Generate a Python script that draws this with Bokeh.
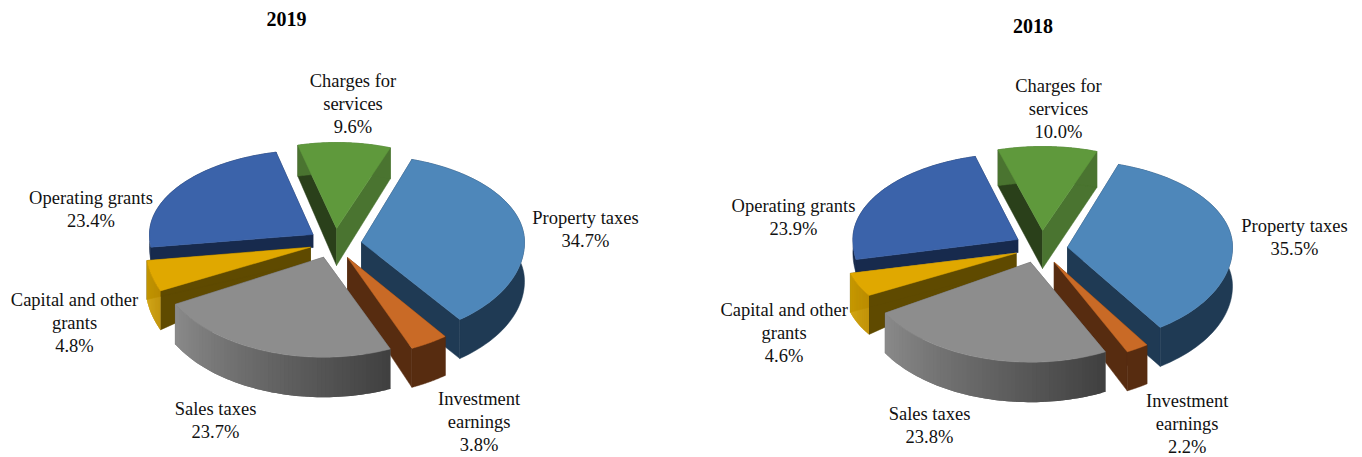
import math
from bokeh.plotting import figure
from bokeh.models import Range1d
from bokeh.core.properties import value
from bokeh.embed import file_html
from bokeh.resources import INLINE

# ---- data ----
categories = ["Property taxes", "Investment earnings", "Sales taxes",
              "Capital and other grants", "Operating grants", "Charges for services"]
shares_2019 = [34.7, 3.8, 23.7, 4.8, 23.4, 9.6]
shares_2018 = [35.5, 2.2, 23.8, 4.6, 23.9, 10.0]
title_2019 = "2019"
title_2018 = "2018"

# ---- style per category: top, wall at start edge, wall at end edge, outer wall from, outer wall to ----
STYLE = {
    "Property taxes":           ("#4E87BA", "#1F3A54", "#1F3A54", "#1F3A54", "#1F3A54"),
    "Investment earnings":      ("#C96A26", "#572C10", "#572C10", "#572C10", "#572C10"),
    "Sales taxes":              ("#8D8D8D", "#5A5A5A", "#5A5A5A", "#8A8A8A", "#404040"),
    "Capital and other grants": ("#E0A800", "#5F4A00", "#5F4A00", "#CFA000", "#BF8F00"),
    "Operating grants":         ("#3B63AA", "#172A4D", "#172A4D", "#172A4D", "#172A4D"),
    "Charges for services":     ("#5F993C", "#2A401A", "#4A7430", "#4A7430", "#4A7430"),
}

# ---- layout: per slice apex x, apex y, rx, ry back, ry front, rotation, apex depth, rim depth ----
GEOM_2019 = {
    "Property taxes":           (361, 241.7, 163, 87, 97, 0, 38, 39),
    "Investment earnings":      (347, 257, 162, 99, 99, 0, 33, 39),
    "Sales taxes":              (323, 256.7, 168, 100, 100, 0, 38, 40),
    "Capital and other grants": (310, 246.7, 165, 105, 105, 3.5, 15, 39),
    "Operating grants":         (312.5, 234, 163.5, 84.5, 100, 3.5, 13, 13),
    "Charges for services":     (336, 228, 156, 86, 86, 2.2, 37, 31),
}
GEOM_2018 = {
    "Property taxes":           (1067, 246.7, 165, 87, 97, 0, 38, 39),
    "Investment earnings":      (1053.7, 261.7, 165, 100, 100, 0, 33, 39),
    "Sales taxes":              (1030, 261.7, 169, 100, 100, 0, 38, 40),
    "Capital and other grants": (1015.7, 252.7, 171, 83, 83, 0, 15, 39),
    "Operating grants":         (1017.4, 239, 165, 86, 105, 3, 13, 13),
    "Charges for services":     (1042, 230, 160, 84, 84, 1.85, 38, 36),
}
DRAW_ORDER = ["Charges for services", "Operating grants", "Property taxes",
              "Capital and other grants", "Investment earnings", "Sales taxes"]
START_ANGLE = 18.0

LABEL_POS_2019 = {
    "Property taxes": (585, 217), "Investment earnings": (478.6, 398), "Sales taxes": (215, 408),
    "Capital and other grants": (74, 299), "Operating grants": (90.5, 197), "Charges for services": (352.5, 80),
}
LABEL_POS_2018 = {
    "Property taxes": (1294, 225), "Investment earnings": (1186.7, 400), "Sales taxes": (929, 413),
    "Capital and other grants": (783.6, 309), "Operating grants": (793, 205), "Charges for services": (1058, 85),
}
LABEL_LINES = {
    "Property taxes": ["Property taxes"], "Investment earnings": ["Investment", "earnings"],
    "Sales taxes": ["Sales taxes"], "Capital and other grants": ["Capital and other", "grants"],
    "Operating grants": ["Operating grants"], "Charges for services": ["Charges for", "services"],
}

FONT = "Liberation Serif"

p = figure(width=1362, height=457, x_range=Range1d(0, 1362), y_range=Range1d(457, 0),
           x_axis_type=None, y_axis_type=None, output_backend="svg", toolbar_location=None,
           min_border=0, outline_line_color=None, background_fill_color="white",
           border_fill_color="white")
p.grid.visible = False


def mix(c1, c2, f):
    a = [int(c1[i:i + 2], 16) for i in (1, 3, 5)]
    b = [int(c2[i:i + 2], 16) for i in (1, 3, 5)]
    return "#%02x%02x%02x" % tuple(round(u + (v - u) * f) for u, v in zip(a, b))


def poly(xs, ys, color):
    p.patch(xs, ys, fill_color=color, line_color=color, line_width=0.5)


def draw_pie(shares, geom, label_pos, title, title_xy):
    angles = {}
    t = START_ANGLE
    for cat, s in zip(categories, shares):
        angles[cat] = (t, t + s * 3.6)
        t += s * 3.6

    for cat in DRAW_ORDER:
        ax, ay, rx, ryb, ryf, rot, da, dr = geom[cat]
        t1, t2 = angles[cat]
        t1 += rot
        t2 += rot
        top, w1, w2, o1, o2 = STYLE[cat]

        def pt(tt):
            r = math.radians(tt)
            c = math.cos(r)
            return ax + rx * math.sin(r), ay - (ryb if c > 0 else ryf) * c

        n = 60
        ts = [t1 + (t2 - t1) * i / n for i in range(n + 1)]
        arc = [pt(u) for u in ts]

        # radial walls
        a1, a2 = arc[0], arc[-1]
        poly([ax, a1[0], a1[0], ax], [ay, a1[1], a1[1] + dr, ay + da], w1)
        poly([ax, a2[0], a2[0], ax], [ay, a2[1], a2[1] + dr, ay + da], w2)

        # outer wall, shaded along the rim; each band overlaps the next one
        if o1 == o2:
            poly([q[0] for q in arc] + [q[0] for q in arc[::-1]],
                 [q[1] for q in arc] + [q[1] + dr for q in arc[::-1]], o1)
        else:
            for i in range(n):
                col = mix(o2, o1, i / (n - 1))
                seg = arc[i:i + 3]
                p.patch([q[0] for q in seg] + [q[0] for q in seg[::-1]],
                        [q[1] for q in seg] + [q[1] + dr for q in seg[::-1]],
                        fill_color=col, line_color=None)

        # top face
        poly([ax] + [q[0] for q in arc], [ay] + [q[1] for q in arc], top)

    # labels
    for cat, s in zip(categories, shares):
        x, y = label_pos[cat]
        lines = LABEL_LINES[cat] + ["%.1f%%" % s]
        for i, line in enumerate(lines):
            p.text([x], [y + i * 23], text=[line], text_font=value(FONT), text_font_size="18.5px",
                   text_color="#111111", text_align="center", text_baseline="middle")

    p.text([title_xy[0]], [title_xy[1]], text=[title], text_font=value(FONT), text_font_size="20px",
           text_font_style="bold", text_color="#000000", text_align="center", text_baseline="middle")


draw_pie(shares_2019, GEOM_2019, LABEL_POS_2019, title_2019, (286, 18))
draw_pie(shares_2018, GEOM_2018, LABEL_POS_2018, title_2018, (1032.6, 25))

open("out.html", "w").write(file_html(p, INLINE))
